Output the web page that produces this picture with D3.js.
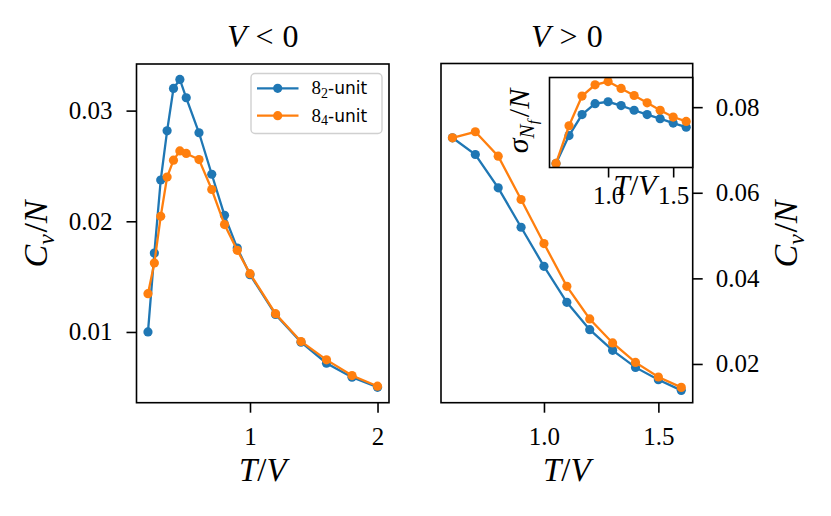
<!DOCTYPE html>
<html>
<head>
<meta charset="UTF-8">
<script src="https://d3js.org/d3.v7.min.js"></script>
<style>
  body { margin: 0; background: #fff; }
</style>
</head>
<body>
<div id="chart"></div>
<script>
// ---- data ----
const seriesNames = ["8_2", "8_4"];
const seriesColors = ["#1f77b4", "#ff7f0e"];

// V < 0 panel
const tLeft = [0.2, 0.25, 0.3, 0.35, 0.4, 0.45, 0.5, 0.6, 0.7, 0.8, 0.9, 1.0, 1.2, 1.4, 1.6, 1.8, 2.0];
const cvLeft82 = [0.0100, 0.01713, 0.02373, 0.02817, 0.0320, 0.03282, 0.03116, 0.0280, 0.02425, 0.02054, 0.01758, 0.01518, 0.01158, 0.00908, 0.00718, 0.00591, 0.0050];
const cvLeft84 = [0.01346, 0.01623, 0.02045, 0.0240, 0.02552, 0.02636, 0.02613, 0.02558, 0.02287, 0.0197, 0.01738, 0.01527, 0.01165, 0.00914, 0.00748, 0.00606, 0.0051];

// V > 0 panel
const tRight = [0.6, 0.7, 0.8, 0.9, 1.0, 1.1, 1.2, 1.3, 1.4, 1.5, 1.6];
const cvRight82 = [0.07284, 0.06894, 0.06115, 0.05194, 0.04282, 0.0344, 0.02802, 0.02318, 0.0192, 0.01633, 0.01383];
const cvRight84 = [0.07284, 0.07425, 0.06854, 0.05842, 0.04813, 0.03814, 0.03052, 0.02491, 0.02037, 0.01696, 0.01453];
const rightYLim = [0.01095, 0.0902];

// inset: sigma_{N_f}/N (no y ticks shown, arbitrary units)
const tInset = [0.6, 0.7, 0.8, 0.9, 1.0, 1.1, 1.2, 1.3, 1.4, 1.5, 1.6];
const sigma82 = [0.050, 0.152, 0.229, 0.269, 0.276, 0.262, 0.245, 0.229, 0.214, 0.198, 0.183];
const sigma84 = [0.050, 0.188, 0.297, 0.338, 0.350, 0.325, 0.299, 0.272, 0.245, 0.220, 0.204];

// ticks
const leftXTicks = [1, 2];
const leftYTicks = [0.01, 0.02, 0.03];
const rightXTicks = [1.0, 1.5];
const rightYTicks = [0.02, 0.04, 0.06, 0.08];
const insetXTicks = [1.0, 1.5];

const serif = "'Liberation Serif', 'DejaVu Serif', serif";
const sans = "'DejaVu Sans', sans-serif";
const tickSize = 25;

const svg = d3.select("#chart").append("svg")
  .attr("width", 831).attr("height", 516);

// matplotlib-like 5% margins
function padded(vals) {
  const [a, b] = d3.extent(vals);
  const m = (b - a) * 0.05;
  return [a - m, b + m];
}

function styleAxis(sel, size) {
  sel.attr("font-family", serif).attr("font-size", size);
  sel.select(".domain").remove();
  sel.selectAll(".tick line").attr("stroke", "#000").attr("stroke-width", 1.6);
  sel.selectAll(".tick text").attr("fill", "#000");
}

function drawSeries(g, x, y, ts, vals, color) {
  const pts = ts.map((t, i) => [t, vals[i]]);
  g.append("path")
    .datum(pts)
    .attr("fill", "none")
    .attr("stroke", color)
    .attr("stroke-width", 2.3)
    .attr("d", d3.line().x(d => x(d[0])).y(d => y(d[1])));
  g.selectAll(null).data(pts).enter().append("circle")
    .attr("cx", d => x(d[0])).attr("cy", d => y(d[1]))
    .attr("r", 4.6).attr("fill", color);
}

// math text helpers
function mathCvN(t) {
  t.append("tspan").attr("font-style", "italic").text("C");
  t.append("tspan").attr("font-style", "italic").attr("font-size", "0.7em").attr("dy", "0.3em").text("v");
  t.append("tspan").attr("dy", "-0.21em").attr("dx", "0.05em").text("/");
  t.append("tspan").attr("font-style", "italic").text("N");
}
function mathTV(t) {
  t.append("tspan").attr("font-style", "italic").text("T");
  t.append("tspan").text("/");
  t.append("tspan").attr("font-style", "italic").text("V");
}
function mathTitle(t, rel) {
  t.append("tspan").attr("font-style", "italic").text("V");
  t.append("tspan").attr("dx", 9).text(rel);
  t.append("tspan").attr("dx", 9).text("0");
}

// ---------------- left panel ----------------
const L = {x0: 136.5, x1: 389, y0: 64, y1: 402.7};
const xL = d3.scaleLinear().domain(padded(tLeft)).range([L.x0, L.x1]);
const yL = d3.scaleLinear().domain(padded(cvLeft82.concat(cvLeft84))).range([L.y1, L.y0]);

svg.append("g").attr("transform", `translate(0,${L.y1})`)
  .call(d3.axisBottom(xL).tickValues(leftXTicks).tickSize(10).tickPadding(15).tickFormat(d3.format("d")))
  .call(s => styleAxis(s, tickSize));
svg.append("g").attr("transform", `translate(${L.x0},0)`)
  .call(d3.axisLeft(yL).tickValues(leftYTicks).tickSize(10).tickPadding(14).tickFormat(d3.format(".2f")))
  .call(s => styleAxis(s, tickSize));

const gL = svg.append("g");
drawSeries(gL, xL, yL, tLeft, cvLeft82, seriesColors[0]);
drawSeries(gL, xL, yL, tLeft, cvLeft84, seriesColors[1]);

svg.append("rect").attr("x", L.x0).attr("y", L.y0)
  .attr("width", L.x1 - L.x0).attr("height", L.y1 - L.y0)
  .attr("fill", "none").attr("stroke", "#000").attr("stroke-width", 1.6);

// title
mathTitle(svg.append("text").attr("x", (L.x0 + L.x1) / 2).attr("y", 47)
  .attr("text-anchor", "middle").attr("font-family", serif).attr("font-size", 32), "<");

// axis labels
mathTV(svg.append("text").attr("x", (L.x0 + L.x1) / 2).attr("y", 481)
  .attr("text-anchor", "middle").attr("font-family", serif).attr("font-size", 33));
mathCvN(svg.append("text").attr("transform", "translate(47,234) rotate(-90)")
  .attr("text-anchor", "middle").attr("font-family", serif).attr("font-size", 34));

// legend
const leg = svg.append("g");
leg.append("rect").attr("x", 251).attr("y", 73.5).attr("width", 131).attr("height", 60)
  .attr("rx", 4).attr("fill", "#fff").attr("fill-opacity", 0.8)
  .attr("stroke", "#d0d0d0").attr("stroke-width", 1.4);
seriesNames.forEach((name, i) => {
  const yy = 88.3 + i * 27.4;
  leg.append("line").attr("x1", 257).attr("x2", 298.5).attr("y1", yy).attr("y2", yy)
    .attr("stroke", seriesColors[i]).attr("stroke-width", 2.3);
  leg.append("circle").attr("cx", 277.7).attr("cy", yy).attr("r", 4.6).attr("fill", seriesColors[i]);
  const [base, sub] = name.split("_");
  const t = leg.append("text").attr("x", 311.5).attr("y", yy + 6).attr("font-size", 19);
  t.append("tspan").attr("font-family", serif).text(base);
  t.append("tspan").attr("font-family", serif).attr("font-size", 14).attr("dy", 3.5).text(sub);
  t.append("tspan").attr("font-family", sans).attr("font-size", 17).attr("dy", -3.5).text("-unit");
});

// ---------------- right panel ----------------
const R = {x0: 441, x1: 692.7, y0: 63.5, y1: 402.7};
const xR = d3.scaleLinear().domain(padded(tRight)).range([R.x0, R.x1]);
const yR = d3.scaleLinear().domain(rightYLim).range([R.y1, R.y0]);

svg.append("g").attr("transform", `translate(0,${R.y1})`)
  .call(d3.axisBottom(xR).tickValues(rightXTicks).tickSize(10).tickPadding(15).tickFormat(d3.format(".1f")))
  .call(s => styleAxis(s, tickSize));
svg.append("g").attr("transform", `translate(${R.x1},0)`)
  .call(d3.axisRight(yR).tickValues(rightYTicks).tickSize(10).tickPadding(13).tickFormat(d3.format(".2f")))
  .call(s => styleAxis(s, tickSize));

const gR = svg.append("g");
drawSeries(gR, xR, yR, tRight, cvRight82, seriesColors[0]);
drawSeries(gR, xR, yR, tRight, cvRight84, seriesColors[1]);

svg.append("rect").attr("x", R.x0).attr("y", R.y0)
  .attr("width", R.x1 - R.x0).attr("height", R.y1 - R.y0)
  .attr("fill", "none").attr("stroke", "#000").attr("stroke-width", 1.6);

mathTitle(svg.append("text").attr("x", (R.x0 + R.x1) / 2).attr("y", 47)
  .attr("text-anchor", "middle").attr("font-family", serif).attr("font-size", 32), ">");

mathTV(svg.append("text").attr("x", (R.x0 + R.x1) / 2).attr("y", 481)
  .attr("text-anchor", "middle").attr("font-family", serif).attr("font-size", 33));
mathCvN(svg.append("text").attr("transform", "translate(797,234) rotate(-90)")
  .attr("text-anchor", "middle").attr("font-family", serif).attr("font-size", 34));

// ---------------- inset ----------------
const I = {x0: 549.5, x1: 692.7, y0: 77.5, y1: 167.5};
const xI = d3.scaleLinear().domain(padded(tInset)).range([I.x0, I.x1]);
const yI = d3.scaleLinear().domain(padded(sigma82.concat(sigma84))).range([I.y1, I.y0]);

svg.append("rect").attr("x", I.x0).attr("y", I.y0)
  .attr("width", I.x1 - I.x0).attr("height", I.y1 - I.y0).attr("fill", "#fff");

svg.append("g").attr("transform", `translate(0,${I.y1})`)
  .call(d3.axisBottom(xI).tickValues(insetXTicks).tickSize(10).tickPadding(9).tickFormat(d3.format(".1f")))
  .call(s => styleAxis(s, tickSize));

const gI = svg.append("g");
drawSeries(gI, xI, yI, tInset, sigma82, seriesColors[0]);
drawSeries(gI, xI, yI, tInset, sigma84, seriesColors[1]);

svg.append("rect").attr("x", I.x0).attr("y", I.y0)
  .attr("width", I.x1 - I.x0).attr("height", I.y1 - I.y0)
  .attr("fill", "none").attr("stroke", "#000").attr("stroke-width", 1.6);

// inset x label sits over the tick labels, as in the original
mathTV(svg.append("text").attr("x", 635).attr("y", 195)
  .attr("text-anchor", "middle").attr("font-family", serif).attr("font-size", 30));

const sig = svg.append("text").attr("transform", "translate(528,121) rotate(-90)")
  .attr("text-anchor", "middle").attr("font-family", serif).attr("font-size", 30);
sig.append("tspan").attr("font-style", "italic").text("σ");
sig.append("tspan").attr("font-style", "italic").attr("font-size", "0.7em").attr("dy", "0.3em").text("N");
sig.append("tspan").attr("font-style", "italic").attr("font-size", "0.5em").attr("dy", "0.25em").text("f");
sig.append("tspan").attr("dy", "-0.3em").attr("dx", "0.1em").text("/");
sig.append("tspan").attr("font-style", "italic").text("N");
</script>
</body>
</html>
